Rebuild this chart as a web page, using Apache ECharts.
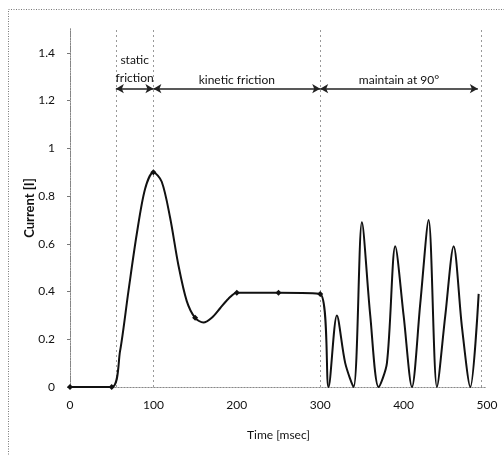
<!DOCTYPE html>
<html>
<head>
    <meta charset="utf-8">
    <title>Current vs time</title>
    <script src="https://cdn.jsdelivr.net/npm/echarts@6/dist/echarts.min.js"></script>
    <style>
        html, body { margin: 0; padding: 0; background: #fff; }
        #mychat { width: 504px; height: 455px; }
    </style>
</head>
<body>
<div id="mychat"></div>
<script>
    // time [msec] and current readings
    const times   = [0, 50, 60, 70, 80, 90, 100, 110, 120, 130, 140, 150, 160, 170, 180, 190, 200, 250, 300,
                     310, 320, 330, 340, 350, 360, 370, 380, 390, 400,
                     410, 420, 430, 440, 450, 460, 470, 480, 490];
    const current = [0, 0, 0.15, 0.40, 0.64, 0.83, 0.9, 0.86, 0.71, 0.51, 0.36, 0.29, 0.27, 0.29, 0.33, 0.37, 0.395, 0.395, 0.39,
                     0, 0.3, 0.1, 0, 0.69, 0.3, 0, 0.1, 0.59, 0.3,
                     0, 0.35, 0.7, 0, 0.3, 0.59, 0.25, 0, 0.39];
    // points drawn with a marker
    const markerTimes = [0, 50, 100, 150, 200, 250, 300];
    // phase boundaries (dashed verticals)
    const phaseLines = [55, 100, 300, 493];
    // phase arrows: start, end, label
    const phaseStart = [55, 100, 300];
    const phaseEnd   = [100, 300, 489];
    const phaseNames = ['static\nfriction', 'kinetic friction', 'maintain at 90°'];
    const arrowY = 1.25;

    const font = 'Lato, "Open Sans", sans-serif';
    let myChart = echarts.init(document.getElementById('mychat'));

    let arrows = [];
    for (let i = 0; i < phaseStart.length; i++) {
        let twoLines = phaseNames[i].indexOf('\n') !== -1;
        arrows.push([
            {
                coord: [phaseStart[i], arrowY],
                name: phaseNames[i],
                label: {lineHeight: twoLines ? 18 : 14, distance: 2}
            },
            {coord: [phaseEnd[i], arrowY]}
        ]);
    }

    let option = {
        animation: false,
        backgroundColor: '#fff',
        graphic: [{
            type: 'rect',
            shape: {x: 8.5, y: 9.5, width: 520, height: 470},
            style: {fill: 'none', stroke: '#777', lineWidth: 1, lineDash: [1, 1.5]},
            silent: true
        }],
        grid: {left: 70, right: 17, top: 29, bottom: 68},
        xAxis: [{
            type: 'value',
            min: 0, max: 500, interval: 100,
            name: 'Time [msec]',
            nameLocation: 'middle',
            nameGap: 42,
            nameMoveOverlap: false,
            nameTextStyle: {fontFamily: font, fontSize: 12, color: '#111'},
            axisLine: {onZero: false, lineStyle: {color: '#999', type: [1, 2]}},
            axisTick: {show: false},
            axisLabel: {fontFamily: font, fontSize: 12, color: '#111', margin: 12},
            splitLine: {show: false}
        }, {
            type: 'value', position: 'top', min: 0, max: 500,
            axisLine: {show: true, lineStyle: {color: '#888', type: [1, 2]}},
            axisTick: {show: false}, axisLabel: {show: false}, splitLine: {show: false}
        }],
        yAxis: [{
            type: 'value',
            min: 0, max: 1.5, interval: 0.2,
            name: 'Current [I]',
            nameLocation: 'middle',
            nameGap: 34,
            nameMoveOverlap: false,
            nameTextStyle: {fontFamily: font, fontSize: 13, fontWeight: 'bold', color: '#111'},
            axisLine: {show: true, lineStyle: {color: '#777', type: [1, 1.5]}},
            axisTick: {show: true, length: 3, lineStyle: {color: '#777'}},
            axisLabel: {fontFamily: font, fontSize: 12, color: '#111', margin: 15, showMaxLabel: false},
            splitLine: {show: false}
        }, {
            type: 'value', position: 'right', min: 0, max: 1.5,
            axisLine: {show: true, lineStyle: {color: '#888', type: [1, 2]}},
            axisTick: {show: false}, axisLabel: {show: false}, splitLine: {show: false}
        }],
        series: [{
            name: 'current',
            type: 'line',
            data: times.map((t, i) => [t, current[i]]),
            smooth: 0.3,
            symbol: 'diamond',
            showAllSymbol: true,
            symbolSize: function (v) { return markerTimes.indexOf(v[0]) !== -1 ? 6 : 0; },
            itemStyle: {color: '#111'},
            lineStyle: {color: '#111', width: 2},
            z: 5,
            markLine: {
                silent: true,
                symbol: 'none',
                label: {show: false},
                lineStyle: {color: '#999', type: [2, 3], width: 1},
                data: phaseLines.map(x => ({xAxis: x}))
            }
        }, {
            name: 'phases',
            type: 'line',
            data: [],
            markLine: {
                silent: true,
                symbol: ['arrow', 'arrow'],
                symbolSize: [7, 8],
                lineStyle: {color: '#222', type: 'solid', width: 1.5},
                label: {
                    show: true,
                    position: 'middle',
                    formatter: p => p.name,
                    fontFamily: font,
                    fontSize: 12,
                    color: '#111'
                },
                data: arrows
            }
        }]
    };
    myChart.setOption(option);
</script>
</body>
</html>
